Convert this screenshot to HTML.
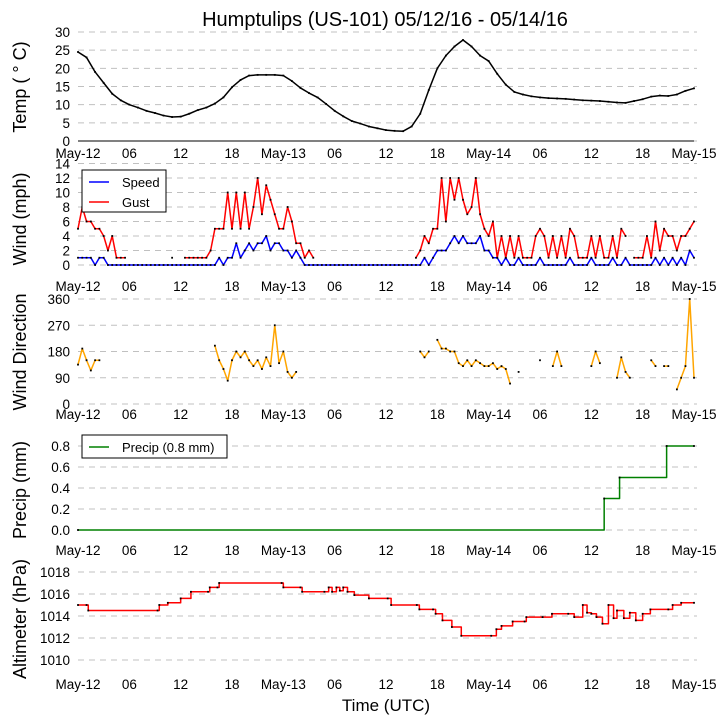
<!DOCTYPE html>
<html><head><meta charset="utf-8"><style>
html,body{margin:0;padding:0;background:#fff;}
svg{display:block;font-family:"Liberation Sans","DejaVu Sans",sans-serif;}
</style></head><body>
<svg id="chart" width="727" height="725" viewBox="0 0 727 725" xmlns="http://www.w3.org/2000/svg">
<text x="385" y="26" font-size="20" text-anchor="middle">Humptulips (US-101) 05/12/16 - 05/14/16</text>
<text x="386" y="711" font-size="17" text-anchor="middle">Time (UTC)</text>
<g id="layer"></g>
</svg>
<script>
// ---- data ----
const xTickLabels = ["May-12","06","12","18","May-13","06","12","18","May-14","06","12","18","May-15"];
const tempHours = [0,1,2,3,4,5,6,7,8,9,10,11,12,13,14,15,16,17,18,19,20,21,22,23,24,25,26,27,28,29,30,31,32,33,34,35,36,37,38,39,40,41,42,43,44,45,46,47,48,49,50,51,52,53,54,55,56,57,58,59,60,61,62,63,64,65,66,67,68,69,70,71,72];
const tempValues = [24.5,23,19,16,13,11.2,10,9.2,8.3,7.7,7,6.6,6.7,7.5,8.5,9.2,10.3,12,14.8,16.8,18,18.2,18.2,18.2,18,16.5,14.6,13.2,12,10.2,8.3,6.8,5.5,4.8,4,3.5,3,2.8,2.7,4,7.5,14,20,23.5,26,27.8,26,23.5,22,18.5,15.5,13.5,12.8,12.3,12,11.8,11.7,11.6,11.4,11.2,11.1,11,10.8,10.6,10.5,11,11.5,12.2,12.5,12.4,12.8,13.8,14.5];
const windHours = [0,0.5,1,1.5,2,2.5,3,3.5,4,4.5,5,5.5,6,6.5,7,7.5,8,8.5,9,9.5,10,10.5,11,11.5,12,12.5,13,13.5,14,14.5,15,15.5,16,16.5,17,17.5,18,18.5,19,19.5,20,20.5,21,21.5,22,22.5,23,23.5,24,24.5,25,25.5,26,26.5,27,27.5,28,28.5,29,29.5,30,30.5,31,31.5,32,32.5,33,33.5,34,34.5,35,35.5,36,36.5,37,37.5,38,38.5,39,39.5,40,40.5,41,41.5,42,42.5,43,43.5,44,44.5,45,45.5,46,46.5,47,47.5,48,48.5,49,49.5,50,50.5,51,51.5,52,52.5,53,53.5,54,54.5,55,55.5,56,56.5,57,57.5,58,58.5,59,59.5,60,60.5,61,61.5,62,62.5,63,63.5,64,64.5,65,65.5,66,66.5,67,67.5,68,68.5,69,69.5,70,70.5,71,71.5,72];
const gustValues = [
5,8,6,6, 5,5,4,2, 4,1,1,1, null,null,null,null, null,null,null,null, null,null,1,null,
null,1,1,1, 1,1,1,2, 5,5,5,10, 5,10,5,10, 5,8,12,7, 11,9,7,5,
5,8,6,3, 3,1,2,1, null,null,null,null, null,null,null,null, null,null,null,null, null,null,null,null,
null,null,null,null, null,null,null,1, 2,4,3,5, 5,12,6,12, 9,12,9,7, 8,12,7,5,
4,6,1,4, 1,4,1,4, 1,1,1,4, 5,4,1,4, 1,4,1,5, 4,1,1,1,
4,1,4,1, 1,4,1,5, 4,null,1,1, 1,4,1,6, 2,5,4,4, 2,4,4,5, 6];
const speedValues = [
1,1,1,1, 0,1,1,0, 0,0,0,0, 0,0,0,0, 0,0,0,0, 0,0,0,0,
0,0,0,0, 0,0,0,0, 0,1,0,1, 1,3,1,2, 3,2,3,3, 4,2,3,3,
2,2,1,2, 1,0,0,0, 0,0,0,0, 0,0,0,0, 0,0,0,0, 0,0,0,0,
0,0,0,0, 0,0,0,0, 0,1,0,1, 2,2,2,3, 4,3,4,3, 3,3,4,2,
2,1,1,0, 1,0,0,1, 0,0,0,0, 1,0,0,0, 0,0,0,1, 0,0,0,0,
1,0,0,0, 0,1,0,0, 1,0,0,0, 0,0,0,1, 0,1,0,1, 0,1,0,2, 1];
const dirValues = [
135,190,150,115, 150,150,null,null, null,null,null,null, null,null,null,null, null,null,null,null, null,null,null,null,
null,null,null,null, null,null,null,null, 200,150,120,80, 150,180,160,180, 150,130,150,120, 160,130,270,140,
180,110,90,110, null,null,null,null, null,null,null,null, null,null,null,null, null,null,null,null, null,null,null,null,
null,null,null,null, null,null,null,null, 180,160,180,null, 220,190,190,180, 180,140,130,150, 130,150,140,130,
130,140,120,130, 120,70,null,110, null,null,null,null, 150,null,null,130, 180,130,null,null, null,null,null,null,
130,180,140,null, null,null,90,160, 110,90,null,null, null,null,150,130, null,130,130,null, 50,90,130,360, 90];
const precipTimes = [0,61.5,63.3,68.8,72];
const precipValues = [0,0.3,0.5,0.8,0.8];
const altTimes = [0,1,1.2,9.3,9.5,10.5,12,13.2,15.2,15.4,16.3,16.5,23.8,24,26,26.2,28.8,29.3,29.7,30.2,30.6,31,31.5,32.3,34,36.2,36.6,39.6,39.9,41.5,41.8,42.6,43.7,44.8,48.3,48.9,49.5,50.8,52.2,52.4,54.3,55.4,57.3,58,59,59.5,60,60.6,61.3,62,62.6,63,63.8,64.5,65.2,66,66.9,69,69.5,70.5,72];
const altValues = [1015,1015,1014.5,1014.5,1015,1015.2,1015.6,1016.2,1016.2,1016.6,1016.6,1017,1017,1016.6,1016.6,1016.2,1016.2,1016.6,1016.2,1016.6,1016.3,1016.6,1016.2,1015.9,1015.6,1015.6,1015,1015,1014.6,1014.6,1014.2,1013.6,1013,1012.2,1012.2,1012.8,1013.1,1013.5,1013.5,1013.9,1013.9,1014.2,1014.2,1013.9,1015,1014.3,1014.2,1013.9,1013.3,1015,1013.8,1014.5,1013.8,1014.3,1013.6,1014.2,1014.6,1014.6,1015,1015.2,1015.2];

// ---- layout ----
const NS="http://www.w3.org/2000/svg";
const layer=document.getElementById('layer');
const X0=78, X1=694;
function xs(h){return X0+(X1-X0)*h/72;}
function mk(tag,attrs,parent){const e=document.createElementNS(NS,tag);for(const k in attrs)e.setAttribute(k,attrs[k]);(parent||layer).appendChild(e);return e;}

const panels=[
 {name:'temp',label:'Temp ( \u00b0 C)',ticks:[0,5,10,15,20,25,30],fmt:v=>String(v),vmin:0,vmax:30,ybot:141,ytop:32,xlab:158,spine:true,ly:87},
 {name:'wind',label:'Wind (mph)',ticks:[0,2,4,6,8,10,12,14],fmt:v=>String(v),vmin:0,vmax:14,ybot:265,ytop:163.5,xlab:291,ly:219},
 {name:'direction',label:'Wind Direction',ticks:[0,90,180,270,360],fmt:v=>String(v),vmin:0,vmax:360,ybot:404,ytop:299,xlab:419,ly:352},
 {name:'precip',label:'Precip (mm)',ticks:[0,0.2,0.4,0.6,0.8],fmt:v=>v.toFixed(1),vmin:0,vmax:0.8,ybot:530,ytop:446,xlab:555,ly:490},
 {name:'altimeter',label:'Altimeter (hPa)',ticks:[1010,1012,1014,1016,1018],fmt:v=>String(v),vmin:1010,vmax:1018,ybot:660,ytop:572,xlab:689,ly:619}
];
panels.forEach(p=>{p.ys=v=>p.ybot-(v-p.vmin)*(p.ybot-p.ytop)/(p.vmax-p.vmin);});

panels.forEach(p=>{
  const g=mk('g',{});
  
  
  p.ticks.forEach(t=>{
    const y=p.ys(t);
    const gl=mk('line',{x1:X0,x2:X1+3,y1:y,y2:y,stroke:'#c0c0c0','stroke-width':1,'stroke-dasharray':'6,5'},g);
    
    
    const tl=mk('text',{x:70,y:y+5,'font-size':13.5,'text-anchor':'end'},g);
    
    
    tl.textContent=p.fmt(t);
  });
  if(p.spine){
    const sp=mk('line',{x1:X0,x2:X1,y1:p.ybot,y2:p.ybot,stroke:'#000','stroke-width':1},g);
    
    
  }
  xTickLabels.forEach((lab,i)=>{
    const t=mk('text',{x:xs(i*6),y:p.xlab,'font-size':13.5,'text-anchor':'middle'},g);
    
    
    t.textContent=lab;
  });
  const yl=mk('text',{x:0,y:0,'font-size':18,'text-anchor':'middle',transform:`translate(26,${p.ly}) rotate(-90)`},g);
  
  
  yl.textContent=p.label;
});

function series(p,hours,vals,color,name,step){
  let d='',pen=false,prev=null;
  hours.forEach((h,i)=>{
    const v=vals[i];
    if(v===null||v===undefined){pen=false;return;}
    const x=xs(h),y=p.ys(v);
    if(!pen){d+=`M${x},${y}`;pen=true;}
    else if(step){d+=`L${x},${p.ys(prev)}L${x},${y}`;}
    else d+=`L${x},${y}`;
    prev=v;
  });
  const path=mk('path',{d:d,fill:'none',stroke:color,'stroke-width':1.5,'stroke-linejoin':'round'});
  
  
  const gd=mk('g',{fill:'#000'});
  
  
  hours.forEach((h,i)=>{
    const v=vals[i];
    if(v===null||v===undefined)return;
    mk('rect',{x:xs(h)-0.9,y:p.ys(v)-0.9,width:1.8,height:1.8},gd);
  });
}
series(panels[0],tempHours,tempValues,'#000','temperature');
series(panels[1],windHours,speedValues,'#0000ff','wind-speed');
series(panels[1],windHours,gustValues,'#ff0000','wind-gust');
series(panels[2],windHours,dirValues,'#ffa500','wind-direction');
series(panels[3],precipTimes,precipValues,'#008000','precip',true);
series(panels[4],altTimes,altValues,'#ff0000','altimeter',true);

// legends
function legend(x,y,w,h,items,name){
  const g=mk('g',{});
  
  
  mk('rect',{x:x,y:y,width:w,height:h,fill:'#fff',stroke:'#000','stroke-width':1},g);
  items.forEach((it,i)=>{
    const cy=y+12+i*20;
    mk('line',{x1:x+7,x2:x+27,y1:cy,y2:cy,stroke:it.c,'stroke-width':1.5},g);
    const t=mk('text',{x:x+40,y:cy+5,'font-size':13},g);
    
    
    t.textContent=it.t;
  });
}
legend(82,170,84,42,[{c:'#0000ff',t:'Speed'},{c:'#ff0000',t:'Gust'}],'wind-legend');
legend(82,435,145,23,[{c:'#008000',t:'Precip (0.8 mm)'}],'precip-legend');
</script>
</body></html>
